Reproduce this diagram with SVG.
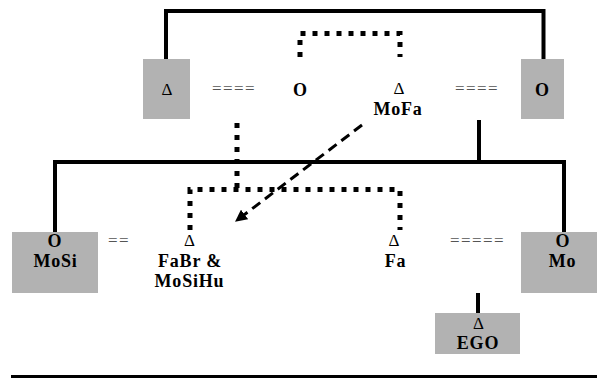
<svg xmlns="http://www.w3.org/2000/svg" width="597" height="378" viewBox="0 0 597 378">
<defs>
<style>
.box{fill:#b2b2b2}
.t{font-family:"Liberation Serif","Times New Roman",serif;font-size:18px;font-weight:bold;fill:#000;text-anchor:middle;letter-spacing:0.8px}
.d{font-family:"Liberation Serif","Times New Roman",serif;font-size:17px;fill:#000;text-anchor:middle}
.eq{font-family:"Liberation Serif","Times New Roman",serif;font-size:17px;fill:#555;letter-spacing:1.4px}
.solid{fill:none;stroke:#000;stroke-width:4}
.dot{fill:none;stroke:#000;stroke-width:5;stroke-dasharray:5 7}
.dash{fill:none;stroke:#000;stroke-width:3;stroke-dasharray:10 6}
</style>
<marker id="ah" viewBox="0 0 10 10" refX="9" refY="5" markerWidth="4" markerHeight="4" orient="auto" markerUnits="strokeWidth">
<path d="M0,0 L10,5 L0,10 z" fill="#000"/>
</marker>
</defs>
<rect width="597" height="378" fill="#fff"/>
<g id="connectors">
<path class="solid" d="M166,59 V11 H543.5 V59"/>
<path class="solid" d="M479,120 V162"/>
<path class="solid" d="M55,232 V162 H564 V232"/>
<path class="solid" d="M478,293 V313"/>
<path class="dot" d="M300,57 V33.5 H400 V57"/>
<path class="dot" d="M237,123 V189"/>
<path class="dot" d="M190,230 V189.5 H400 V230"/>
<path class="dash" d="M362,125 L236,221" marker-end="url(#ah)"/>
<path d="M11,376.5 H597" stroke="#000" stroke-width="3"/>
<text class="eq" x="212" y="94">====</text>
<text class="eq" x="455" y="94">====</text>
<text class="eq" x="108" y="246">==</text>
<text class="eq" x="450" y="246">=====</text>
</g>
<g id="n_left_delta">
<rect class="box" x="143" y="59" width="47" height="60"/>
<text class="d" x="167" y="95">Δ</text>
</g>
<g id="n_top_o">
<text class="t" x="300.5" y="96">O</text>
</g>
<g id="n_mofa">
<text class="d" x="399" y="94">Δ</text>
<text class="t" x="398" y="115">MoFa</text>
</g>
<g id="n_right_o">
<rect class="box" x="521" y="59" width="43" height="60"/>
<text class="t" x="542.5" y="96">O</text>
</g>
<g id="n_mosi">
<rect class="box" x="12" y="232" width="86" height="61"/>
<text class="t" x="55" y="247">O</text>
<text class="t" x="55.5" y="267">MoSi</text>
</g>
<g id="n_fabr">
<text class="d" x="189.5" y="246">Δ</text>
<text class="t" x="190" y="267">FaBr &amp;</text>
<text class="t" x="189.5" y="287">MoSiHu</text>
</g>
<g id="n_fa">
<text class="d" x="394" y="246">Δ</text>
<text class="t" x="395.5" y="267">Fa</text>
</g>
<g id="n_mo">
<rect class="box" x="521" y="232" width="84" height="61"/>
<text class="t" x="563" y="247">O</text>
<text class="t" x="562.5" y="267">Mo</text>
</g>
<g id="n_ego">
<rect class="box" x="435" y="313" width="85" height="41"/>
<text class="d" x="478.5" y="329">Δ</text>
<text class="t" x="478" y="349">EGO</text>
</g>
</svg>
